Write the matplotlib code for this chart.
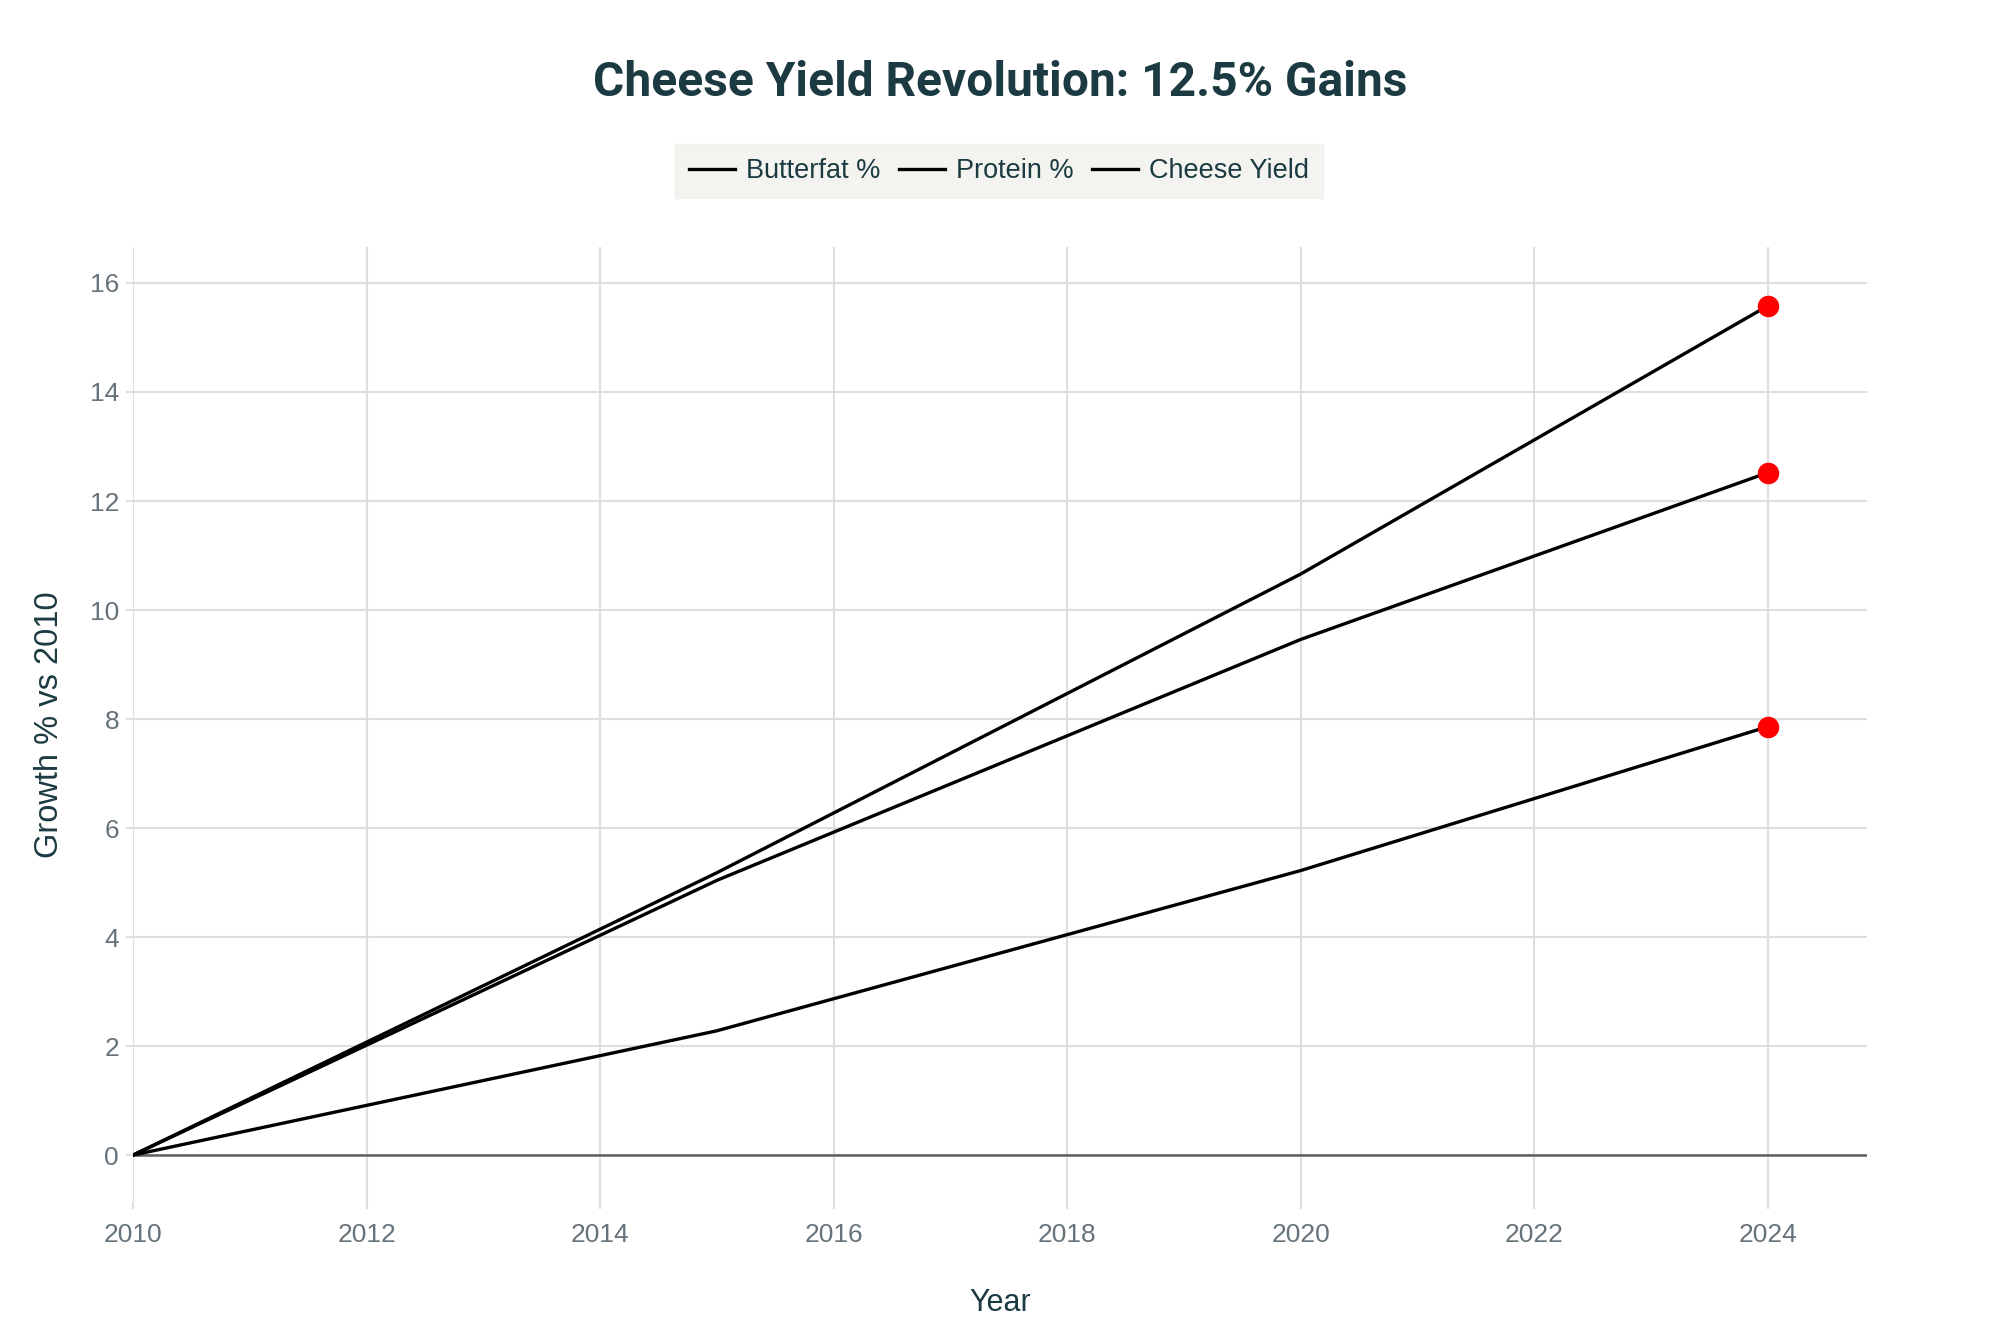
import matplotlib
matplotlib.use("Agg")
import matplotlib.pyplot as plt

# growth vs 2010
years = [2010, 2015, 2020, 2024]
butterfat = [0, 5.18, 10.66, 15.58]
protein = [0, 2.28, 5.22, 7.86]
cheese_yield = [0, 5.04, 9.46, 12.52]

series = [("Butterfat %", butterfat), ("Protein %", protein), ("Cheese Yield", cheese_yield)]
x_ticks = [2010, 2012, 2014, 2016, 2018, 2020, 2022, 2024]
y_ticks = [0, 2, 4, 6, 8, 10, 12, 14, 16]

TEXT = "#1b3a41"
TICK = "#66737a"

plt.rcParams["font.family"] = ["Liberation Sans", "DejaVu Sans"]

fig = plt.figure(figsize=(20, 13.33), dpi=100)
ax = fig.add_axes([0.0665, 0.0983, 0.867, 0.7164])

for name, vals in series:
    ax.plot(years, vals, color="black", lw=2.4, label=name, zorder=3)
    ax.plot(years[-1], vals[-1], "o", color="red", ms=14.5, zorder=4)

ax.axhline(0, color="#5f5f5f", lw=1.8, zorder=2)

ax.set_xlim(2010, 2024.85)
ax.set_ylim(-0.86, 16.66)
ax.set_xticks(x_ticks)
ax.set_yticks(y_ticks)
ax.grid(True, color="#dedede", lw=1.5, zorder=0)
for s in ax.spines.values():
    s.set_visible(False)
ax.tick_params(axis="both", colors="#dedede", labelcolor=TICK, labelsize=19, length=5, width=1.5)
ax.tick_params(axis="x", pad=10)
ax.tick_params(axis="y", pad=5)

ax.set_xlabel("Year", fontsize=22, color=TEXT, labelpad=30)
ax.set_ylabel("Growth % vs 2010", fontsize=23.5, color=TEXT, labelpad=18)

fig.text(0.5, 1 - 83 / 1333, "Cheese Yield Revolution: 12.5% Gains", ha="center", va="center",
         fontsize=34.5, fontweight="bold", color=TEXT, family="Roboto")

leg = fig.legend(loc="center", bbox_to_anchor=(0.4995, 0.8717), ncol=3, frameon=True,
                 fontsize=19.5, handlelength=1.7, handletextpad=0.4, columnspacing=0.7,
                 borderpad=0.52, borderaxespad=0, fancybox=False)
leg.get_frame().set_facecolor("#f0f1ec")
leg.get_frame().set_edgecolor("#f0f1ec")
for t in leg.get_texts():
    t.set_color(TEXT)

fig.savefig("out.png", dpi=100, facecolor="white")
